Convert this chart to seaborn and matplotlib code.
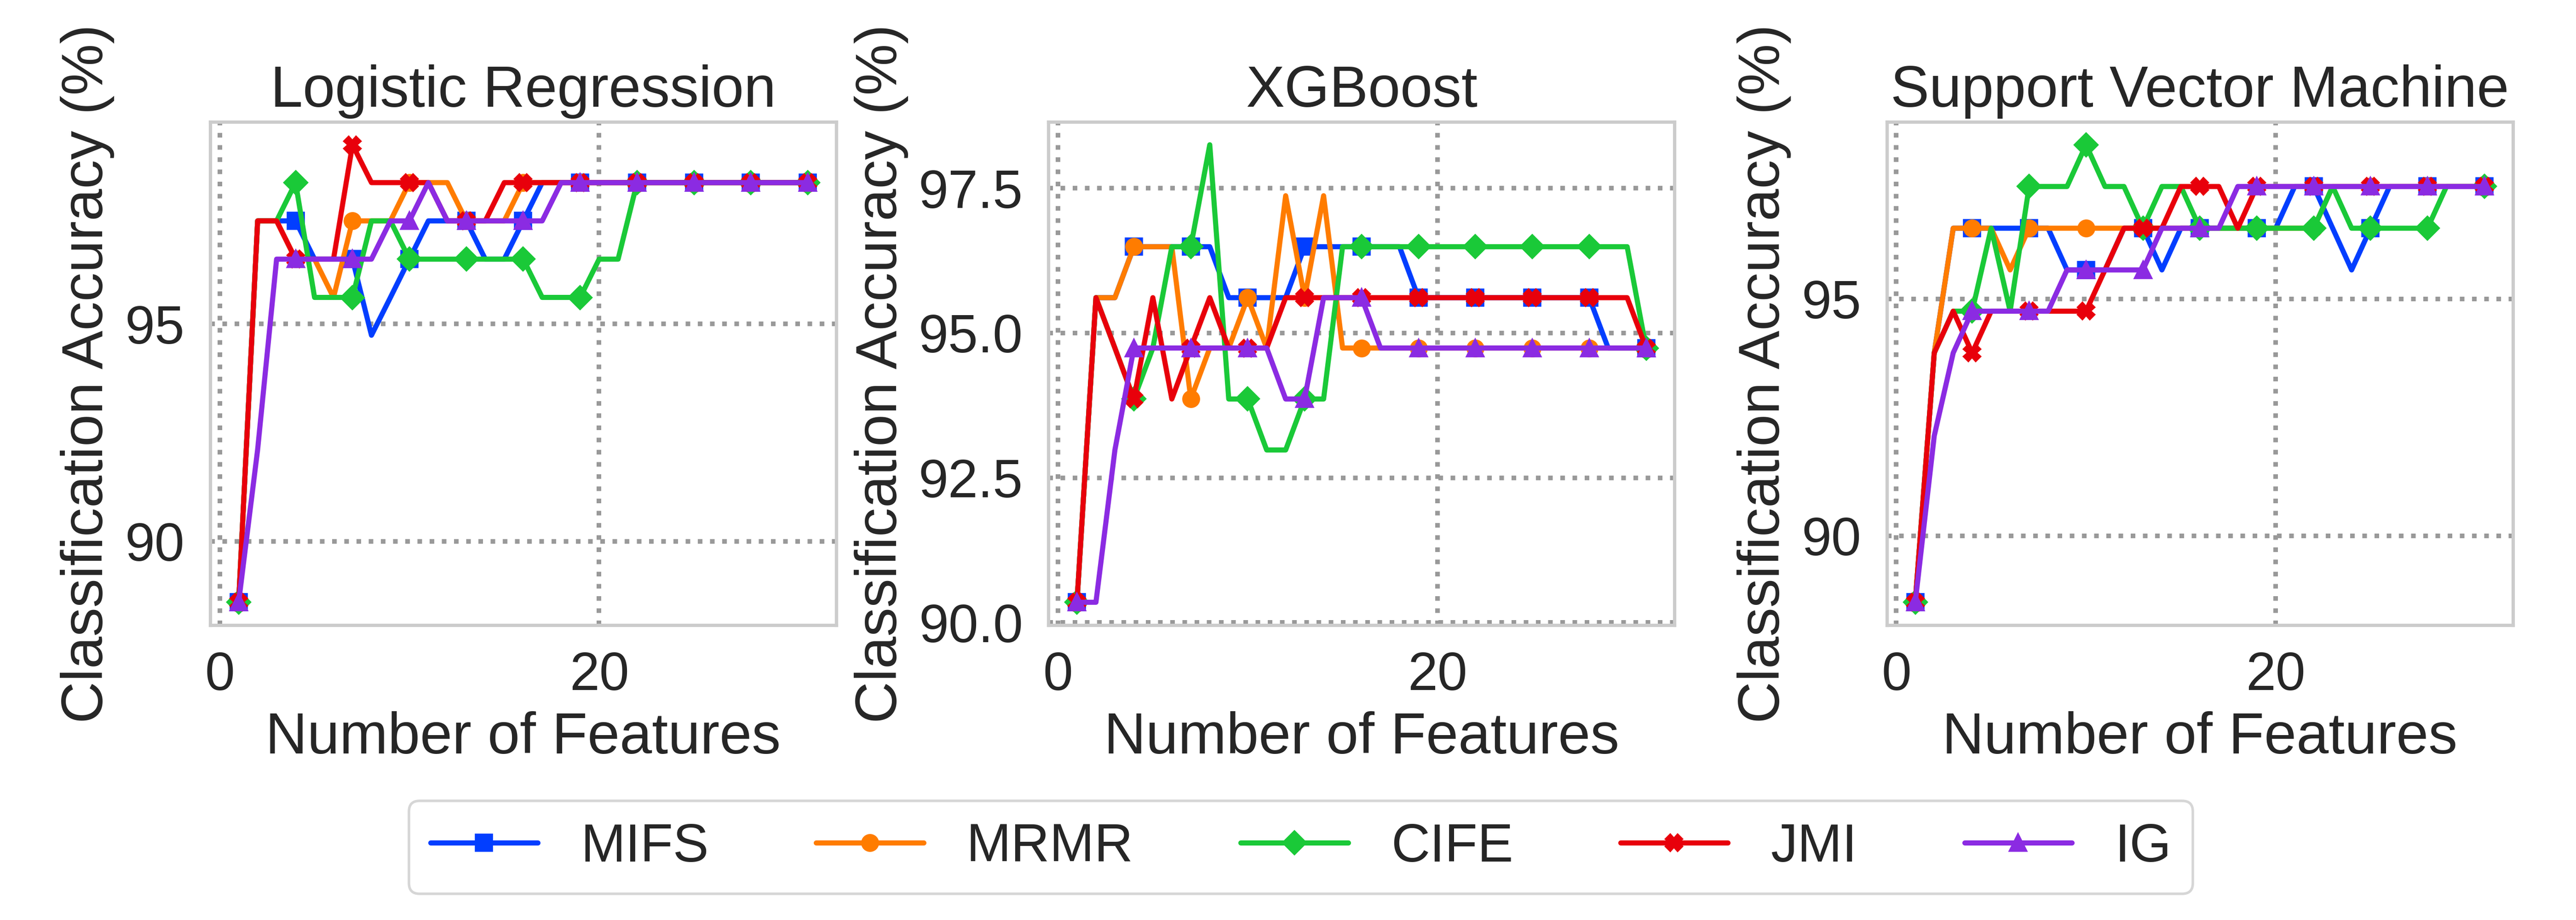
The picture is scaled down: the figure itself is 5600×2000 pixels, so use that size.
import matplotlib
matplotlib.use('Agg')
import matplotlib.pyplot as plt
import seaborn as sns

# number of selected features (x axis)
n_features = list(range(1, 32))

methods = ['MIFS', 'MRMR', 'CIFE', 'JMI', 'IG']
markers = ['s', 'o', 'D', 'X', '^']

# Logistic Regression accuracies (%)
lr_mifs = [88.60, 97.37, 97.37, 97.37, 96.49, 96.49, 96.49, 94.74, 95.61, 96.49,
           97.37, 97.37, 97.37, 96.49, 96.49, 97.37, 98.25, 98.25, 98.25, 98.25,
           98.25, 98.25, 98.25, 98.25, 98.25, 98.25, 98.25, 98.25, 98.25, 98.25, 98.25]
lr_mrmr = [88.60, 97.37, 97.37, 96.49, 96.49, 95.61, 97.37, 97.37, 97.37, 98.25,
           98.25, 98.25, 97.37, 97.37, 97.37, 98.25, 98.25, 98.25, 98.25, 98.25,
           98.25, 98.25, 98.25, 98.25, 98.25, 98.25, 98.25, 98.25, 98.25, 98.25, 98.25]
lr_cife = [88.60, 97.37, 97.37, 98.25, 95.61, 95.61, 95.61, 97.37, 97.37, 96.49,
           96.49, 96.49, 96.49, 96.49, 96.49, 96.49, 95.61, 95.61, 95.61, 96.49,
           96.49, 98.25, 98.25, 98.25, 98.25, 98.25, 98.25, 98.25, 98.25, 98.25, 98.25]
lr_jmi = [88.60, 97.37, 97.37, 96.49, 96.49, 96.49, 99.12, 98.25, 98.25, 98.25,
          98.25, 97.37, 97.37, 97.37, 98.25, 98.25, 98.25, 98.25, 98.25, 98.25,
          98.25, 98.25, 98.25, 98.25, 98.25, 98.25, 98.25, 98.25, 98.25, 98.25, 98.25]
lr_ig = [88.60, 92.11, 96.49, 96.49, 96.49, 96.49, 96.49, 96.49, 97.37, 97.37,
         98.25, 97.37, 97.37, 97.37, 97.37, 97.37, 97.37, 98.25, 98.25, 98.25,
         98.25, 98.25, 98.25, 98.25, 98.25, 98.25, 98.25, 98.25, 98.25, 98.25, 98.25]

# XGBoost accuracies (%)
xgb_mifs = [90.35, 95.61, 95.61, 96.49, 96.49, 96.49, 96.49, 96.49, 95.61, 95.61,
            95.61, 95.61, 96.49, 96.49, 96.49, 96.49, 96.49, 96.49, 95.61, 95.61,
            95.61, 95.61, 95.61, 95.61, 95.61, 95.61, 95.61, 95.61, 94.74, 94.74, 94.74]
xgb_mrmr = [90.35, 95.61, 95.61, 96.49, 96.49, 96.49, 93.86, 94.74, 94.74, 95.61,
            94.74, 97.37, 95.61, 97.37, 94.74, 94.74, 94.74, 94.74, 94.74, 94.74,
            94.74, 94.74, 94.74, 94.74, 94.74, 94.74, 94.74, 94.74, 94.74, 94.74, 94.74]
xgb_cife = [90.35, 95.61, 94.74, 93.86, 94.74, 96.49, 96.49, 98.25, 93.86, 93.86,
            92.98, 92.98, 93.86, 93.86, 96.49, 96.49, 96.49, 96.49, 96.49, 96.49,
            96.49, 96.49, 96.49, 96.49, 96.49, 96.49, 96.49, 96.49, 96.49, 96.49, 94.74]
xgb_jmi = [90.35, 95.61, 94.74, 93.86, 95.61, 93.86, 94.74, 95.61, 94.74, 94.74,
           94.74, 95.61, 95.61, 95.61, 95.61, 95.61, 95.61, 95.61, 95.61, 95.61,
           95.61, 95.61, 95.61, 95.61, 95.61, 95.61, 95.61, 95.61, 95.61, 95.61, 94.74]
xgb_ig = [90.35, 90.35, 92.98, 94.74, 94.74, 94.74, 94.74, 94.74, 94.74, 94.74,
          94.74, 93.86, 93.86, 95.61, 95.61, 95.61, 94.74, 94.74, 94.74, 94.74,
          94.74, 94.74, 94.74, 94.74, 94.74, 94.74, 94.74, 94.74, 94.74, 94.74, 94.74]

# Support Vector Machine accuracies (%)
svm_mifs = [88.60, 93.86, 96.49, 96.49, 96.49, 96.49, 96.49, 96.49, 95.61, 95.61,
            95.61, 96.49, 96.49, 95.61, 96.49, 96.49, 96.49, 96.49, 96.49, 96.49,
            97.37, 97.37, 96.49, 95.61, 96.49, 97.37, 97.37, 97.37, 97.37, 97.37, 97.37]
svm_mrmr = [88.60, 93.86, 96.49, 96.49, 96.49, 95.61, 96.49, 96.49, 96.49, 96.49,
            96.49, 96.49, 96.49, 96.49, 96.49, 96.49, 96.49, 96.49, 96.49, 96.49,
            96.49, 96.49, 97.37, 97.37, 97.37, 97.37, 97.37, 97.37, 97.37, 97.37, 97.37]
svm_cife = [88.60, 93.86, 94.74, 94.74, 96.49, 94.74, 97.37, 97.37, 97.37, 98.25,
            97.37, 97.37, 96.49, 97.37, 97.37, 96.49, 96.49, 96.49, 96.49, 96.49,
            96.49, 96.49, 97.37, 96.49, 96.49, 96.49, 96.49, 96.49, 97.37, 97.37, 97.37]
svm_jmi = [88.60, 93.86, 94.74, 93.86, 94.74, 94.74, 94.74, 94.74, 94.74, 94.74,
           95.61, 96.49, 96.49, 96.49, 97.37, 97.37, 97.37, 96.49, 97.37, 97.37,
           97.37, 97.37, 97.37, 97.37, 97.37, 97.37, 97.37, 97.37, 97.37, 97.37, 97.37]
svm_ig = [88.60, 92.11, 93.86, 94.74, 94.74, 94.74, 94.74, 94.74, 95.61, 95.61,
          95.61, 95.61, 95.61, 96.49, 96.49, 96.49, 96.49, 97.37, 97.37, 97.37,
          97.37, 97.37, 97.37, 97.37, 97.37, 97.37, 97.37, 97.37, 97.37, 97.37, 97.37]

titles = ['Logistic Regression', 'XGBoost', 'Support Vector Machine']
results = [
    [lr_mifs, lr_mrmr, lr_cife, lr_jmi, lr_ig],
    [xgb_mifs, xgb_mrmr, xgb_cife, xgb_jmi, xgb_ig],
    [svm_mifs, svm_mrmr, svm_cife, svm_jmi, svm_ig],
]
x_ticks = [0, 20]
y_ticks = [[90, 95], [90.0, 92.5, 95.0, 97.5], [90, 95]]

sns.set_theme(style='whitegrid', rc={
    'grid.linestyle': ':',
    'grid.color': '0.6',
    'grid.linewidth': 1.8,
    'axes.edgecolor': '0.8',
    'axes.linewidth': 1.3,
})
plt.rcParams['font.family'] = ['Liberation Sans', 'DejaVu Sans']

colors = sns.color_palette('bright', 5)

fig, axes = plt.subplots(1, 3, figsize=(14, 5), dpi=400)
plt.subplots_adjust(left=0.0816, right=0.9755, bottom=0.3205, top=0.8675, wspace=0.339)

for ax, title, series, yt in zip(axes, titles, results, y_ticks):
    for name, vals, mk, col in zip(methods, series, markers, colors):
        sns.lineplot(x=n_features, y=vals, ax=ax, color=col, marker=mk,
                     markevery=3, markersize=6, mew=1, mec=col,
                     linewidth=2.0, label=name)
    ax.get_legend().remove()
    ax.set_title(title, fontsize=22.7)
    ax.set_xlabel('Number of Features', fontsize=22.7)
    ax.set_ylabel('Classification Accuracy (%)', fontsize=22.7)
    ax.set_xticks(x_ticks)
    ax.set_yticks(yt)
    ax.tick_params(labelsize=21, pad=4)

handles, labels = axes[0].get_legend_handles_labels()
fig.legend(handles, labels, loc='center', bbox_to_anchor=(0.505, 0.079),
           ncol=5, fontsize=21, frameon=True, handlelength=2.0)

plt.savefig('out.png', dpi=400)
